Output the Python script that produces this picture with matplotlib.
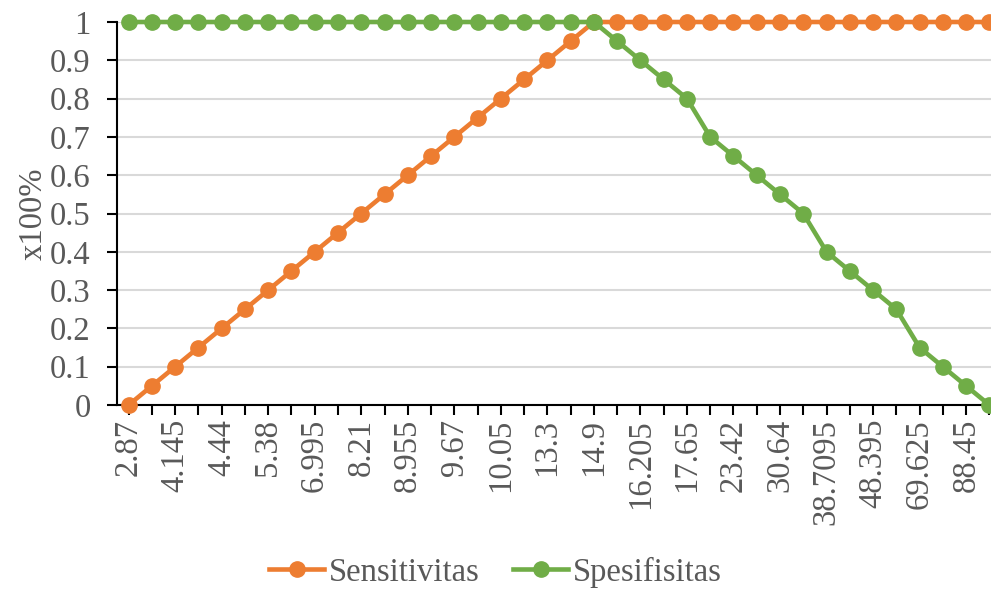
import matplotlib.pyplot as plt
import numpy as np

# category labels (only every other category is labelled in the chart)
shown_labels = ["2.87", "4.145", "4.44", "5.38", "6.995", "8.21", "8.955", "9.67",
                "10.05", "13.3", "14.9", "16.205", "17.65", "23.42", "30.64",
                "38.7095", "48.395", "69.625", "88.45"]

sensitivitas = [0, 0.05, 0.1, 0.15, 0.2, 0.25, 0.3, 0.35, 0.4, 0.45, 0.5, 0.55,
                0.6, 0.65, 0.7, 0.75, 0.8, 0.85, 0.9, 0.95, 1, 1, 1, 1, 1, 1, 1,
                1, 1, 1, 1, 1, 1, 1, 1, 1, 1, 1]
spesifisitas = [1, 1, 1, 1, 1, 1, 1, 1, 1, 1, 1, 1, 1, 1, 1, 1, 1, 1, 1, 1, 1,
                0.95, 0.9, 0.85, 0.8, 0.7, 0.65, 0.6, 0.55, 0.5, 0.4, 0.35, 0.3,
                0.25, 0.15, 0.1, 0.05, 0]

plt.rcParams['font.family'] = ['Liberation Serif', 'DejaVu Serif']
grey = '#595959'
fs = 23.5

fig = plt.figure(figsize=(9.91, 5.89), dpi=100)
ax = fig.add_axes([117/991, 1-405/589, (1001-117)/991, (405-22)/589])

x = np.arange(len(sensitivitas))
ax.plot(x, sensitivitas, '-o', color='#ED7D31', lw=3.3, ms=11, label='Sensitivitas', clip_on=False, zorder=3)
ax.plot(x, spesifisitas, '-o', color='#70AD47', lw=3.3, ms=11, label='Spesifisitas', clip_on=False, zorder=4)

ax.set_xlim(-0.5, len(x) - 0.5)
ax.set_ylim(0, 1)
ax.set_yticks(np.arange(0, 1.01, 0.1))
ax.set_yticklabels(['0'] + ['%.1f' % v for v in np.arange(0.1, 0.95, 0.1)] + ['1'])
ax.set_xticks(x)
ax.set_xticklabels([shown_labels[i // 2] if i % 2 == 0 else '' for i in x], rotation=90)

ax.grid(axis='y', color='#D9D9D9', lw=1.5)
ax.set_axisbelow(True)
for s in ['top', 'right']:
    ax.spines[s].set_visible(False)
ax.spines['left'].set_linewidth(1.5)
ax.spines['bottom'].set_linewidth(1.5)
ax.tick_params(axis='both', colors='black', labelcolor=grey, labelsize=fs, length=7, width=1.5, direction='out')
ax.tick_params(axis='x', pad=3)
ax.tick_params(axis='y', pad=12)

ax.set_ylabel('x100%', fontsize=fs, color=grey, labelpad=1)

fig.legend(loc='center', bbox_to_anchor=(0.5, 1-572/589), ncol=2, frameon=False,
           fontsize=fs, labelcolor=grey, handlelength=1.7, columnspacing=1.0, handletextpad=0.15)

fig.savefig('out.png', dpi=100)
